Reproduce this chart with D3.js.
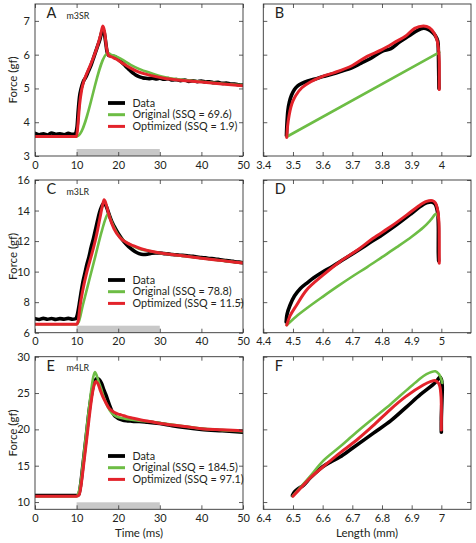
<!DOCTYPE html>
<html><head><meta charset="utf-8">
<script src="https://cdn.jsdelivr.net/npm/d3@7/dist/d3.min.js"></script>
<style>
html,body{margin:0;padding:0;background:#fff;}
svg{display:block;font-family:Lato,"Open Sans",sans-serif;}
</style></head>
<body><svg id="chart" width="476" height="543"></svg>
<script>
// ---------- DATA ----------
const seriesNames = ["Data", "Original", "Optimized"];
const panelLetters = ["A", "B", "C", "D", "E", "F"];
const muscleLabels = ["m3SR", "m3LR", "m4LR"];
const ssqOriginal = [69.6, 78.8, 184.5];
const ssqOptimized = [1.9, 11.5, 97.1];
const stimWindow = [10, 30];
const timeTicks = [0, 10, 20, 30, 40, 50];
const forceTicksA = [3, 4, 5, 6, 7];
const forceTicksC = [6, 8, 10, 12, 14, 16];
const forceTicksE = [10, 15, 20, 25, 30];
const lengthTicksB = [3.4, 3.5, 3.6, 3.7, 3.8, 3.9, 4.0];
const lengthTicksD = [4.4, 4.5, 4.6, 4.7, 4.8, 4.9, 5.0];
const lengthTicksF = [6.4, 6.5, 6.6, 6.7, 6.8, 6.9, 7.0];

// Panel A (m3SR) force-time
const dataA_t = [0,1,2,3,4,5,6,7,8,9,9.7,10.1,10.4,10.7,11.1,11.6,12.2,12.8,13.5,14.2,14.9,15.6,16.1,16.5,16.9,17.3,17.7,18.2,18.8,19.4,20,20.7,21.4,22.1,22.8,23.5,24.2,25,25.8,26.6,27.4,28.2,29,30,31,32,33,34,35,36,37,38,39,40,41,42,43,44,45,46,47,48,49,50];
const dataA_v = [3.67,3.63,3.66,3.62,3.68,3.64,3.66,3.63,3.67,3.64,3.66,3.85,4.35,4.75,5.0,5.2,5.33,5.5,5.7,5.95,6.2,6.45,6.68,6.72,6.45,6.1,5.98,5.97,5.95,5.93,5.87,5.79,5.71,5.62,5.54,5.46,5.4,5.35,5.32,5.3,5.29,5.3,5.28,5.3,5.27,5.29,5.25,5.26,5.23,5.25,5.21,5.23,5.2,5.22,5.19,5.2,5.17,5.18,5.15,5.16,5.13,5.13,5.11,5.1];
const origA_t = [0,10,10.4,17.6,18.3,19.5,21,23,25,28,31,35,40,45,50];
const origA_v = [3.58,3.58,3.6,6.05,6.0,5.95,5.85,5.7,5.58,5.45,5.34,5.26,5.2,5.14,5.1];
const optA_t = [0,10,10.3,10.7,11.2,11.7,12.3,13,14,15,15.8,16.3,16.7,17.2,17.7,18.5,19.5,21,23,25,28,31,35,40,45,50];
const optA_v = [3.58,3.58,3.9,4.5,4.95,5.2,5.4,5.6,5.9,6.25,6.6,6.85,6.7,6.2,5.98,5.93,5.87,5.75,5.6,5.48,5.38,5.3,5.24,5.19,5.13,5.08];

// Panel B (m3SR) force-length
const dataB_L = [3.478,3.48,3.483,3.488,3.495,3.505,3.515,3.53,3.55,3.575,3.6,3.63,3.66,3.7,3.73,3.76,3.8,3.83,3.86,3.89,3.92,3.94,3.955,3.97,3.98,3.988,3.99,3.991,3.992];
const dataB_F = [3.6,4.0,4.35,4.6,4.8,4.97,5.07,5.15,5.22,5.28,5.35,5.42,5.5,5.62,5.75,5.88,6.1,6.18,6.38,6.55,6.72,6.78,6.75,6.66,6.56,6.4,6.1,5.6,5.0];
const origB_L = [3.479,3.993];
const origB_F = [3.57,6.07];
const optB_L = [3.479,3.482,3.487,3.493,3.5,3.51,3.53,3.56,3.6,3.64,3.7,3.75,3.8,3.85,3.88,3.91,3.94,3.96,3.975,3.985,3.99,3.993,3.993,3.993];
const optB_F = [3.55,3.9,4.2,4.45,4.63,4.8,5.02,5.2,5.36,5.47,5.68,5.95,6.15,6.4,6.55,6.78,6.85,6.8,6.65,6.45,6.2,5.8,5.3,4.97];

// Panel C (m3LR) force-time
const dataC_t = [0,1,2,3,4,5,6,7,8,9,9.8,10.2,10.6,11,11.5,12,12.5,13,13.5,14,14.5,15,15.5,16,16.5,17,17.5,18,18.5,19,20,21,22,23,24,25,26,27,28,29,30,31,32,33,34,35,36,37,38,39,40,41,42,43,44,45,46,47,48,49,50];
const dataC_v = [6.92,6.86,6.94,6.88,6.93,6.87,6.92,6.89,6.94,6.88,6.92,7.2,7.8,8.5,9.3,9.9,10.5,11.0,11.6,12.1,12.7,13.3,13.85,14.25,14.45,14.35,14.0,13.6,13.25,12.98,12.5,12.1,11.78,11.52,11.32,11.18,11.12,11.14,11.2,11.23,11.22,11.18,11.16,11.12,11.1,11.07,11.06,11.02,11.0,10.96,10.92,10.9,10.86,10.84,10.8,10.76,10.72,10.7,10.65,10.62,10.58];
const origC_t = [0,10,10.5,11.5,13,14.5,16,17,17.6,18.2,19,20,21.5,23,25,27.6,30,35,40,45,50];
const origC_v = [6.55,6.55,6.7,7.8,9.4,11.0,12.6,13.5,13.8,13.4,12.9,12.4,12.0,11.75,11.5,11.35,11.22,11.05,10.88,10.72,10.56];
const optC_t = [0,10,10.4,10.8,11.5,12.4,13.2,14,14.8,15.6,16.2,16.6,17,17.5,18,19,20.5,22,23.6,25.5,27.6,30,32,35,40,45,50];
const optC_v = [6.55,6.55,6.8,7.7,8.8,9.9,10.7,11.5,12.4,13.5,14.3,14.7,14.5,14.0,13.5,12.8,12.2,11.9,11.7,11.5,11.35,11.22,11.15,11.05,10.88,10.72,10.56];

// Panel D (m3LR) force-length
const dataD_L = [4.477,4.48,4.49,4.505,4.525,4.55,4.57,4.6,4.63,4.658,4.7,4.75,4.8,4.85,4.9,4.93,4.95,4.97,4.98,4.988,4.99,4.99,4.99,4.991];
const dataD_F = [6.7,7.2,7.8,8.4,8.9,9.3,9.6,9.98,10.3,10.65,11.15,11.78,12.4,13.08,13.82,14.28,14.5,14.55,14.4,13.8,13.0,12.0,11.2,10.7];
const origD_L = [4.479,4.51,4.55,4.6,4.65,4.7,4.75,4.8,4.85,4.9,4.94,4.965,4.982,4.99];
const origD_F = [6.5,7.05,7.65,8.35,9.03,9.68,10.3,10.95,11.6,12.28,12.9,13.4,13.78,13.55];
const optD_L = [4.479,4.49,4.512,4.546,4.6,4.658,4.72,4.77,4.83,4.883,4.92,4.95,4.97,4.98,4.988,4.992,4.993,4.993];
const optD_F = [6.5,7.1,7.8,8.8,9.75,10.65,11.45,12.18,12.95,13.7,14.25,14.6,14.65,14.5,14.0,13.2,12.0,10.55];

// Panel E (m4LR) force-time
const dataE_t = [0,2,4,6,8,10,10.5,11,11.5,12,12.5,13,13.5,14,14.5,15,15.5,16,16.5,17,17.5,18,18.5,19,19.5,20,21,22,23,24,25,27,30,33,36,40,45,50];
const dataE_v = [10.9,10.9,10.9,10.9,10.9,10.9,11.0,12.5,15.0,17.5,20.0,22.5,24.5,26.0,26.8,27.0,26.8,26.3,25.5,24.8,24.0,23.2,22.5,22.0,21.7,21.5,21.3,21.2,21.15,21.1,21.1,21.0,20.8,20.5,20.25,20.0,19.8,19.6];
const origE_t = [0,10,10.3,11,11.5,12,12.5,13,13.5,14,14.4,14.9,15.4,15.9,16.5,17.5,18.5,19.5,20.5,22.4,25,28,31,35,40,45,50];
const origE_v = [10.8,10.8,11.0,12.8,15.3,17.9,20.5,23.0,25.3,27.2,27.9,27.3,26.4,25.6,24.5,23.1,22.2,21.8,21.6,21.4,21.2,21.05,20.8,20.5,20.1,19.9,19.75];
const optE_t = [0,10,10.6,11,11.5,12,12.5,13,13.5,14,14.6,15.2,15.8,16.3,17,17.7,18.3,19,20,20.7,22,23.5,25.5,28,30.3,33,36,40,45,50];
const optE_v = [10.8,10.8,11.0,12.0,14.2,16.6,19.0,21.5,23.8,25.6,26.6,26.2,25.2,24.5,23.7,23.0,22.65,22.35,22.1,22.0,21.75,21.55,21.3,21.05,20.8,20.6,20.4,20.1,19.95,19.8];

// Panel F (m4LR) force-length
const dataF_L = [6.498,6.505,6.52,6.535,6.56,6.6,6.63,6.658,6.7,6.77,6.83,6.883,6.93,6.97,6.985,6.995,7.0,7.003,7.002,7.0,7.0];
const dataF_F = [10.9,11.4,11.9,12.3,13.4,14.86,15.6,16.2,17.4,19.45,21.2,23.1,24.8,26.1,26.7,27.2,26.9,26.0,24.0,21.5,19.6];
const origF_L = [6.499,6.557,6.6,6.658,6.714,6.77,6.83,6.883,6.92,6.95,6.98,6.992,7.0,7.003];
const origF_F = [10.83,13.5,15.6,17.6,19.6,21.5,23.5,25.4,26.7,27.6,28.0,27.6,26.9,26.4];
const optF_L = [6.5,6.53,6.56,6.602,6.65,6.714,6.77,6.826,6.88,6.939,6.965,6.98,6.99,6.995,6.999,7.0,7.0];
const optF_F = [10.8,12.1,13.4,14.86,16.5,18.5,20.5,22.66,24.5,26.1,26.6,26.7,26.4,25.9,24.5,23.1,19.9];

// ---------- LAYOUT / STYLE ----------
const colors = {Data: "#000000", Original: "#6dbd45", Optimized: "#e3232b"};
const widths = {Data: 3.6, Original: 2.6, Optimized: 3.0};
const colX = [{x0: 35, x1: 243}, {x0: 263.3, x1: 471}];
const rowY = [{y0: 4, y1: 156}, {y0: 180, y1: 332.7}, {y0: 356.7, y1: 509.3}];
const rowYDomain = [[3, 7.5], [6, 16], [9, 30]];
const rowYTicks = [forceTicksA, forceTicksC, forceTicksE];
const rightXDomain = [[3.4, 4.1], [4.4, 5.1], [6.4, 7.1]];
const rightXTicks = [lengthTicksB, lengthTicksD, lengthTicksF];
const zip = (a, b) => a.map((v, i) => [v, b[i]]);
const timeSeries = [
  [zip(dataA_t, dataA_v), zip(origA_t, origA_v), zip(optA_t, optA_v)],
  [zip(dataC_t, dataC_v), zip(origC_t, origC_v), zip(optC_t, optC_v)],
  [zip(dataE_t, dataE_v), zip(origE_t, origE_v), zip(optE_t, optE_v)]
];
const loopSeries = [
  [zip(dataB_L, dataB_F), zip(origB_L, origB_F), zip(optB_L, optB_F)],
  [zip(dataD_L, dataD_F), zip(origD_L, origD_F), zip(optD_L, optD_F)],
  [zip(dataF_L, dataF_F), zip(origF_L, origF_F), zip(optF_L, optF_F)]
];
const legendRowY = [103, 280, 456];

const svg = d3.select("#chart");
const axisColor = "#333";
const textColor = "#231f20";
const fmt = d3.format("~g");

function drawPanel(col, row, xDomain, xTicks, series, isTime) {
  const {x0, x1} = colX[col];
  const {y0, y1} = rowY[row];
  const x = d3.scaleLinear().domain(xDomain).range([x0, x1]);
  const y = d3.scaleLinear().domain(rowYDomain[row]).range([y1, y0]);
  const g = svg.append("g");
  const clipId = "clip" + col + row;
  g.append("clipPath").attr("id", clipId).append("rect")
    .attr("x", x0).attr("y", y0).attr("width", x1 - x0).attr("height", y1 - y0);

  if (isTime) {
    g.append("rect").attr("x", x(stimWindow[0])).attr("width", x(stimWindow[1]) - x(stimWindow[0]))
      .attr("y", y1 - 7).attr("height", 7).attr("fill", "#c8c8c8");
  }
  const line = d3.line().x(d => x(d[0])).y(d => y(d[1])).curve(d3.curveMonotoneX);
  const lineLoop = d3.line().x(d => x(d[0])).y(d => y(d[1])).curve(d3.curveCatmullRom.alpha(0.5));
  const lg = g.append("g").attr("clip-path", `url(#${clipId})`);
  series.forEach((s, i) => {
    const name = seriesNames[i];
    lg.append("path").datum(s)
      .attr("d", isTime ? line : lineLoop)
      .attr("fill", "none").attr("stroke", colors[name])
      .attr("stroke-width", widths[name]).attr("stroke-linejoin", "round").attr("stroke-linecap", "round");
  });

  // axes
  const tickLen = 4;
  const bottom = d3.axisBottom(x).tickValues(xTicks).tickFormat(fmt).tickSizeInner(-tickLen).tickSizeOuter(0).tickPadding(5);
  const top = d3.axisTop(x).tickValues(xTicks).tickFormat("").tickSizeInner(-tickLen).tickSizeOuter(0);
  const left = d3.axisLeft(y).tickValues(rowYTicks[row]).tickFormat(col === 0 ? fmt : "").tickSizeInner(-tickLen).tickSizeOuter(0).tickPadding(5);
  const right = d3.axisRight(y).tickValues(rowYTicks[row]).tickFormat("").tickSizeInner(-tickLen).tickSizeOuter(0);
  [[bottom, `translate(0,${y1})`], [top, `translate(0,${y0})`], [left, `translate(${x0},0)`], [right, `translate(${x1},0)`]]
    .forEach(([ax, tr]) => {
      const a = g.append("g").attr("transform", tr).call(ax);
      a.select(".domain").remove();
      a.selectAll("line").attr("stroke", axisColor).attr("stroke-width", 0.8);
      a.selectAll("text").attr("fill", textColor).style("font-size", "11px").style("font-family", "Lato, 'Open Sans', sans-serif");
    });
  g.append("rect").attr("x", x0).attr("y", y0).attr("width", x1 - x0).attr("height", y1 - y0)
    .attr("fill", "none").attr("stroke", axisColor).attr("stroke-width", 0.9);

  // panel letter
  g.append("text").attr("x", x0 + 11.5).attr("y", y0 + 14.2).text(panelLetters[row * 2 + col])
    .attr("fill", textColor).style("font-size", "14.5px");

  if (isTime) {
    g.append("text").attr("x", x0 + 31.5).attr("y", y0 + 14.5).text(muscleLabels[row])
      .attr("fill", textColor).style("font-size", "8.9px");
    g.append("text").attr("transform", `translate(13,${(y0 + y1) / 2}) rotate(-90)`)
      .attr("text-anchor", "middle").attr("dy", "0.35em").text("Force (gf)")
      .attr("fill", textColor).style("font-size", "11.5px");
    // legend
    const labels = ["Data", `Original (SSQ = ${ssqOriginal[row]})`, `Optimized (SSQ = ${ssqOptimized[row]})`];
    labels.forEach((lab, i) => {
      const ly = legendRowY[row] + i * 11.7;
      g.append("line").attr("x1", 108).attr("x2", 125).attr("y1", ly).attr("y2", ly)
        .attr("stroke", colors[seriesNames[i]]).attr("stroke-width", i === 0 ? 3.8 : 3);
      g.append("text").attr("x", 132.5).attr("y", ly).attr("dy", "0.35em").text(lab)
        .attr("fill", textColor).style("font-size", "10.8px");
    });
  }
}

for (let r = 0; r < 3; r++) {
  drawPanel(0, r, [0, 50], timeTicks, timeSeries[r], true);
  drawPanel(1, r, rightXDomain[r], rightXTicks[r], loopSeries[r], false);
}
svg.append("text").attr("x", 139).attr("y", 533).attr("dy", "0.35em").attr("text-anchor", "middle")
  .text("Time (ms)").attr("fill", textColor).style("font-size", "11.5px");
svg.append("text").attr("x", 367).attr("y", 533).attr("dy", "0.35em").attr("text-anchor", "middle")
  .text("Length (mm)").attr("fill", textColor).style("font-size", "11.5px");
</script>
</body></html>
